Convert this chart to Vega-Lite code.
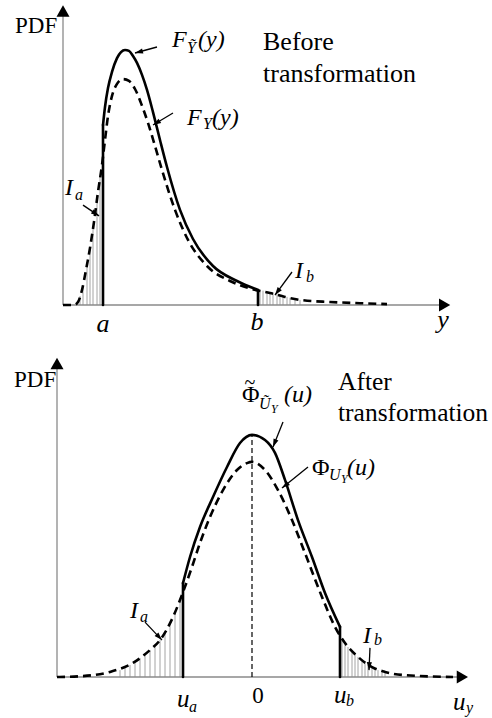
{
"$schema": "https://vega.github.io/schema/vega-lite/v6.json",
"background": "white",
"padding": 0,
"spacing": 0,
"config": {"view": {"stroke": null}},
"resolve": {"scale": {"x": "independent", "y": "independent", "shape": "independent"}},
"vconcat": [
{
"width": 492, "height": 345,
"data": {"values": [
{"k":"axis","x":0,"y":0,"x2":0,"y2":0.975},
{"k":"axis","x":0,"y":0,"x2":9.5,"y2":0},
{"k":"headUp","x":0,"y":0.98},
{"k":"headRight","x":9.54,"y":0},
{"k":"vsolid","x":1.0,"y":0,"x2":1.0,"y2":0.6},
{"k":"vsolid","x":4.875,"y":0,"x2":4.875,"y2":0.05},
{"k":"dash","x":0,"y":0},{"k":"dash","x":0.275,"y":0},{"k":"dash","x":0.375,"y":0.01},{"k":"dash","x":0.475,"y":0.05},{"k":"dash","x":0.575,"y":0.117},{"k":"dash","x":0.675,"y":0.19},{"k":"dash","x":0.775,"y":0.277},{"k":"dash","x":0.875,"y":0.377},{"k":"dash","x":0.975,"y":0.467},{"k":"dash","x":1.05,"y":0.55},{"k":"dash","x":1.125,"y":0.63},{"k":"dash","x":1.225,"y":0.697},{"k":"dash","x":1.35,"y":0.737},{"k":"dash","x":1.5,"y":0.753},{"k":"dash","x":1.65,"y":0.747},{"k":"dash","x":1.8,"y":0.72},{"k":"dash","x":1.95,"y":0.673},{"k":"dash","x":2.125,"y":0.607},{"k":"dash","x":2.3,"y":0.53},{"k":"dash","x":2.475,"y":0.45},{"k":"dash","x":2.8,"y":0.317},{"k":"dash","x":3.125,"y":0.217},{"k":"dash","x":3.6,"y":0.13},{"k":"dash","x":4.175,"y":0.08},{"k":"dash","x":4.675,"y":0.055},{"k":"dash","x":5.175,"y":0.04},{"k":"dash","x":5.55,"y":0.027},{"k":"dash","x":5.925,"y":0.017},{"k":"dash","x":6.675,"y":0.01},{"k":"dash","x":7.425,"y":0.006},{"k":"dash","x":8.1,"y":0.003},
{"k":"solid","x":1.0,"y":0.6},{"k":"solid","x":1.05,"y":0.66},{"k":"solid","x":1.125,"y":0.723},{"k":"solid","x":1.225,"y":0.777},{"k":"solid","x":1.35,"y":0.823},{"k":"solid","x":1.45,"y":0.843},{"k":"solid","x":1.55,"y":0.85},{"k":"solid","x":1.65,"y":0.847},{"k":"solid","x":1.75,"y":0.83},{"k":"solid","x":1.85,"y":0.807},{"k":"solid","x":1.975,"y":0.767},{"k":"solid","x":2.1,"y":0.717},{"k":"solid","x":2.25,"y":0.643},{"k":"solid","x":2.425,"y":0.55},{"k":"solid","x":2.6,"y":0.46},{"k":"solid","x":2.925,"y":0.317},{"k":"solid","x":3.25,"y":0.22},{"k":"solid","x":3.75,"y":0.13},{"k":"solid","x":4.35,"y":0.08},{"k":"solid","x":4.875,"y":0.05},
{"k":"hatch","x":0.425,"y":0.03},{"k":"hatch","x":0.5,"y":0.067},{"k":"hatch","x":0.6,"y":0.133},{"k":"hatch","x":0.675,"y":0.19},{"k":"hatch","x":0.75,"y":0.257},{"k":"hatch","x":0.85,"y":0.35},{"k":"hatch","x":0.925,"y":0.427},
{"k":"hatch","x":4.925,"y":0.05},{"k":"hatch","x":5.0,"y":0.048},{"k":"hatch","x":5.1,"y":0.045},{"k":"hatch","x":5.175,"y":0.042},{"k":"hatch","x":5.25,"y":0.04},{"k":"hatch","x":5.35,"y":0.037},{"k":"hatch","x":5.425,"y":0.034},{"k":"hatch","x":5.5,"y":0.031},{"k":"hatch","x":5.6,"y":0.027},{"k":"hatch","x":5.675,"y":0.024},{"k":"hatch","x":5.8,"y":0.02},{"k":"hatch","x":5.925,"y":0.017},
{"k":"arrow","x":2.35,"y":0.86,"x2":1.8,"y2":0.84},
{"k":"arrow","x":2.75,"y":0.64,"x2":2.25,"y2":0.6},
{"k":"arrow","x":0.5,"y":0.333,"x2":0.9,"y2":0.297},
{"k":"arrow","x":5.725,"y":0.11,"x2":5.3,"y2":0.033},
{"k":"lab","s":"PDF","x":-1.2,"y":0.907},
{"k":"cap","s":"Before","x":5.0,"y":0.85},
{"k":"cap","s":"transformation","x":5.0,"y":0.743},
{"k":"m","s":"F","x":2.725,"y":0.86},
{"k":"sub","s":"\u1ef8","x":3.1,"y":0.84},
{"k":"m","s":"(y)","x":3.375,"y":0.86},
{"k":"m","s":"F","x":3.1,"y":0.6},
{"k":"sub","s":"Y","x":3.5,"y":0.587},
{"k":"m","s":"(y)","x":3.725,"y":0.6},
{"k":"m","s":"I","x":0.05,"y":0.367},
{"k":"sub","s":"a","x":0.3,"y":0.35},
{"k":"m","s":"I","x":5.8,"y":0.09},
{"k":"sub","s":"b","x":6.075,"y":0.077},
{"k":"tick","s":"a","x":1.0,"y":-0.09},
{"k":"tick","s":"b","x":4.85,"y":-0.083},
{"k":"tick","s":"y","x":9.5,"y":-0.077}
]},
"encoding": {
"x": {"field":"x","type":"quantitative","scale":{"domain":[-1.575,10.725],"nice":false,"zero":false},"axis":null},
"y": {"field":"y","type":"quantitative","scale":{"domain":[-0.13333,1.01667],"nice":false,"zero":false},"axis":null}
},
"layer": [
{"transform":[{"filter":"datum.k==='hatch'"}],"mark":{"type":"rule","color":"#9a9a9a","strokeWidth":0.9},"encoding":{"y2":{"datum":0}}},
{"transform":[{"filter":"datum.k==='axis'"}],"mark":{"type":"rule","color":"#8a8a8a","strokeWidth":1.3},"encoding":{"x2":{"field":"x2"},"y2":{"field":"y2"}}},
{"transform":[{"filter":"datum.k==='headUp'||datum.k==='headRight'"}],"mark":{"type":"point","filled":true,"color":"black","size":169,"opacity":1},"encoding":{"shape":{"field":"k","type":"nominal","scale":{"domain":["headUp","headRight"],"range":["triangle-up","triangle-right"]},"legend":null}}},
{"transform":[{"filter":"datum.k==='dash'"}],"mark":{"type":"line","color":"black","strokeWidth":2.6,"strokeDash":[8,5],"interpolate":"monotone"},"encoding":{}},
{"transform":[{"filter":"datum.k==='solid'"}],"mark":{"type":"line","color":"black","strokeWidth":2.6,"interpolate":"monotone","strokeCap":"round"},"encoding":{}},
{"transform":[{"filter":"datum.k==='vsolid'"}],"mark":{"type":"rule","color":"black","strokeWidth":2.6,"strokeCap":"round"},"encoding":{"x2":{"field":"x2"},"y2":{"field":"y2"}}},
{"transform":[{"filter":"datum.k==='arrow'"}],"mark":{"type":"rule","color":"black","strokeWidth":1.3},"encoding":{"x2":{"field":"x2"},"y2":{"field":"y2"}}},
{"transform":[{"filter":"datum.k==='arrow'"},{"calculate":"atan2((datum.x2-datum.x)*40,(datum.y2-datum.y)*300)*180/PI","as":"ang"}],"mark":{"type":"point","filled":true,"color":"black","size":16,"shape":"M0,0L-1.3,4L1.3,4Z","opacity":1},"encoding":{"x":{"field":"x2","type":"quantitative","axis":null},"y":{"field":"y2","type":"quantitative","axis":null},"angle":{"field":"ang","type":"quantitative","scale":null}}},
{"transform":[{"filter":"datum.k==='lab'"}],"mark":{"type":"text","font":"Liberation Serif, DejaVu Serif, serif","fontSize":23,"align":"left","baseline":"alphabetic","color":"black"},"encoding":{"text":{"field":"s"}}},
{"transform":[{"filter":"datum.k==='cap'"}],"mark":{"type":"text","font":"Liberation Serif, DejaVu Serif, serif","fontSize":26,"align":"left","baseline":"alphabetic","color":"black"},"encoding":{"text":{"field":"s"}}},
{"transform":[{"filter":"datum.k==='m'"}],"mark":{"type":"text","font":"Liberation Serif, DejaVu Serif, serif","fontSize":24,"fontStyle":"italic","align":"left","baseline":"alphabetic","color":"black"},"encoding":{"text":{"field":"s"}}},
{"transform":[{"filter":"datum.k==='sub'"}],"mark":{"type":"text","font":"Liberation Serif, DejaVu Serif, serif","fontSize":16,"fontStyle":"italic","align":"left","baseline":"alphabetic","color":"black"},"encoding":{"text":{"field":"s"}}},
{"transform":[{"filter":"datum.k==='tick'"}],"mark":{"type":"text","font":"Liberation Serif, DejaVu Serif, serif","fontSize":26,"fontStyle":"italic","align":"center","baseline":"alphabetic","color":"black"},"encoding":{"text":{"field":"s"}}}
]
},
{
"width": 492, "height": 373,
"data": {"values": [
{"k":"axis","x":-4.875,"y":0,"x2":-4.875,"y2":1.04},
{"k":"axis","x":-4.875,"y":0,"x2":5.2,"y2":0},
{"k":"headUp","x":-4.875,"y":1.045},
{"k":"headRight","x":5.26,"y":0},
{"k":"vdash","x":0,"y":0,"x2":0,"y2":0.807},
{"k":"vsolid","x":-1.725,"y":0,"x2":-1.725,"y2":0.313},
{"k":"vsolid","x":2.2,"y":0,"x2":2.2,"y2":0.167},
{"k":"dash","x":-4.875,"y":0},{"k":"dash","x":-4.225,"y":0.003},{"k":"dash","x":-3.55,"y":0.017},{"k":"dash","x":-2.975,"y":0.047},{"k":"dash","x":-2.55,"y":0.09},{"k":"dash","x":-2.3,"y":0.123},{"k":"dash","x":-1.975,"y":0.2},{"k":"dash","x":-1.725,"y":0.283},{"k":"dash","x":-1.5,"y":0.367},{"k":"dash","x":-1.3,"y":0.447},{"k":"dash","x":-1.05,"y":0.533},{"k":"dash","x":-0.725,"y":0.623},{"k":"dash","x":-0.375,"y":0.69},{"k":"dash","x":-0.125,"y":0.713},{"k":"dash","x":0,"y":0.717},{"k":"dash","x":0.325,"y":0.69},{"k":"dash","x":0.65,"y":0.623},{"k":"dash","x":1.0,"y":0.523},{"k":"dash","x":1.325,"y":0.413},{"k":"dash","x":1.75,"y":0.267},{"k":"dash","x":2.075,"y":0.167},{"k":"dash","x":2.325,"y":0.113},{"k":"dash","x":2.65,"y":0.067},{"k":"dash","x":3.0,"y":0.033},{"k":"dash","x":3.325,"y":0.017},{"k":"dash","x":3.75,"y":0.007},{"k":"dash","x":5.025,"y":0},
{"k":"solid","x":-1.725,"y":0.313},{"k":"solid","x":-1.55,"y":0.4},{"k":"solid","x":-1.3,"y":0.5},{"k":"solid","x":-0.975,"y":0.6},{"k":"solid","x":-0.625,"y":0.7},{"k":"solid","x":-0.3,"y":0.78},{"k":"solid","x":0,"y":0.807},{"k":"solid","x":0.325,"y":0.79},{"k":"solid","x":0.575,"y":0.747},{"k":"solid","x":0.825,"y":0.657},{"k":"solid","x":1.15,"y":0.523},{"k":"solid","x":1.5,"y":0.4},{"k":"solid","x":1.825,"y":0.28},{"k":"solid","x":2.2,"y":0.167},
{"k":"hatch","x":-3.3,"y":0.023},{"k":"hatch","x":-3.175,"y":0.03},{"k":"hatch","x":-3.05,"y":0.04},{"k":"hatch","x":-2.925,"y":0.053},{"k":"hatch","x":-2.8,"y":0.063},{"k":"hatch","x":-2.675,"y":0.077},{"k":"hatch","x":-2.55,"y":0.09},{"k":"hatch","x":-2.425,"y":0.103},{"k":"hatch","x":-2.3,"y":0.123},{"k":"hatch","x":-2.175,"y":0.147},{"k":"hatch","x":-2.05,"y":0.177},{"k":"hatch","x":-1.925,"y":0.217},{"k":"hatch","x":-1.8,"y":0.257},
{"k":"hatch","x":2.25,"y":0.123},{"k":"hatch","x":2.325,"y":0.113},{"k":"hatch","x":2.4,"y":0.1},{"k":"hatch","x":2.5,"y":0.087},{"k":"hatch","x":2.575,"y":0.077},{"k":"hatch","x":2.65,"y":0.067},{"k":"hatch","x":2.75,"y":0.057},{"k":"hatch","x":2.825,"y":0.047},{"k":"hatch","x":2.9,"y":0.04},{"k":"hatch","x":3.0,"y":0.033},{"k":"hatch","x":3.075,"y":0.027},{"k":"hatch","x":3.15,"y":0.023},{"k":"hatch","x":3.25,"y":0.02},{"k":"hatch","x":3.325,"y":0.017},
{"k":"arrow","x":0.775,"y":0.85,"x2":0.525,"y2":0.767},
{"k":"arrow","x":1.4,"y":0.7,"x2":0.75,"y2":0.63},
{"k":"arrow","x":-2.675,"y":0.183,"x2":-2.25,"y2":0.123},
{"k":"arrow","x":2.95,"y":0.097,"x2":2.925,"y2":0.023},
{"k":"lab","s":"PDF","x":-5.95,"y":0.967},
{"k":"cap","s":"After","x":2.15,"y":0.957},
{"k":"cap","s":"transformation","x":2.15,"y":0.853},
{"k":"up","s":"\u03a6","x":-0.25,"y":0.917},
{"k":"tilde","s":"~","x":-0.05,"y":0.96},
{"k":"sub","s":"\u0168","x":0.175,"y":0.893},
{"k":"subsub","s":"Y","x":0.475,"y":0.88},
{"k":"m","s":"(u)","x":0.8,"y":0.917},
{"k":"up","s":"\u03a6","x":1.5,"y":0.673},
{"k":"sub","s":"U","x":1.925,"y":0.657},
{"k":"subsub","s":"Y","x":2.225,"y":0.647},
{"k":"m","s":"(u)","x":2.375,"y":0.673},
{"k":"m","s":"I","x":-3.05,"y":0.197},
{"k":"sub","s":"a","x":-2.8,"y":0.183},
{"k":"m","s":"I","x":2.775,"y":0.113},
{"k":"sub","s":"b","x":3.05,"y":0.107},
{"k":"mL","s":"u","x":-1.875,"y":-0.1},
{"k":"sub","s":"a","x":-1.575,"y":-0.117},
{"k":"tickup","s":"0","x":0.15,"y":-0.087},
{"k":"mL","s":"u","x":2.05,"y":-0.087},
{"k":"sub","s":"b","x":2.35,"y":-0.097},
{"k":"mL","s":"u","x":5.025,"y":-0.11},
{"k":"sub","s":"y","x":5.35,"y":-0.12}
]},
"encoding": {
"x": {"field":"x","type":"quantitative","scale":{"domain":[-6.3,6.0],"nice":false,"zero":false},"axis":null},
"y": {"field":"y","type":"quantitative","scale":{"domain":[-0.13667,1.10667],"nice":false,"zero":false},"axis":null}
},
"layer": [
{"transform":[{"filter":"datum.k==='hatch'"}],"mark":{"type":"rule","color":"#9a9a9a","strokeWidth":0.9},"encoding":{"y2":{"datum":0}}},
{"transform":[{"filter":"datum.k==='axis'"}],"mark":{"type":"rule","color":"#8a8a8a","strokeWidth":1.3},"encoding":{"x2":{"field":"x2"},"y2":{"field":"y2"}}},
{"transform":[{"filter":"datum.k==='headUp'||datum.k==='headRight'"}],"mark":{"type":"point","filled":true,"color":"black","size":169,"opacity":1},"encoding":{"shape":{"field":"k","type":"nominal","scale":{"domain":["headUp","headRight"],"range":["triangle-up","triangle-right"]},"legend":null}}},
{"transform":[{"filter":"datum.k==='vdash'"}],"mark":{"type":"rule","color":"black","strokeWidth":1.2,"strokeDash":[5,3]},"encoding":{"x2":{"field":"x2"},"y2":{"field":"y2"}}},
{"transform":[{"filter":"datum.k==='dash'"}],"mark":{"type":"line","color":"black","strokeWidth":2.6,"strokeDash":[8,5],"interpolate":"monotone"},"encoding":{}},
{"transform":[{"filter":"datum.k==='solid'"}],"mark":{"type":"line","color":"black","strokeWidth":2.6,"interpolate":"monotone","strokeCap":"round"},"encoding":{}},
{"transform":[{"filter":"datum.k==='vsolid'"}],"mark":{"type":"rule","color":"black","strokeWidth":2.6,"strokeCap":"round"},"encoding":{"x2":{"field":"x2"},"y2":{"field":"y2"}}},
{"transform":[{"filter":"datum.k==='arrow'"}],"mark":{"type":"rule","color":"black","strokeWidth":1.3},"encoding":{"x2":{"field":"x2"},"y2":{"field":"y2"}}},
{"transform":[{"filter":"datum.k==='arrow'"},{"calculate":"atan2((datum.x2-datum.x)*40,(datum.y2-datum.y)*300)*180/PI","as":"ang"}],"mark":{"type":"point","filled":true,"color":"black","size":16,"shape":"M0,0L-1.3,4L1.3,4Z","opacity":1},"encoding":{"x":{"field":"x2","type":"quantitative","axis":null},"y":{"field":"y2","type":"quantitative","axis":null},"angle":{"field":"ang","type":"quantitative","scale":null}}},
{"transform":[{"filter":"datum.k==='lab'"}],"mark":{"type":"text","font":"Liberation Serif, DejaVu Serif, serif","fontSize":23,"align":"left","baseline":"alphabetic","color":"black"},"encoding":{"text":{"field":"s"}}},
{"transform":[{"filter":"datum.k==='cap'"}],"mark":{"type":"text","font":"Liberation Serif, DejaVu Serif, serif","fontSize":25.5,"align":"left","baseline":"alphabetic","color":"black"},"encoding":{"text":{"field":"s"}}},
{"transform":[{"filter":"datum.k==='up'"}],"mark":{"type":"text","font":"Liberation Serif, DejaVu Serif, serif","fontSize":24,"align":"left","baseline":"alphabetic","color":"black"},"encoding":{"text":{"field":"s"}}},
{"transform":[{"filter":"datum.k==='tilde'"}],"mark":{"type":"text","font":"Liberation Serif, DejaVu Serif, serif","fontSize":20,"align":"center","baseline":"alphabetic","color":"black"},"encoding":{"text":{"field":"s"}}},
{"transform":[{"filter":"datum.k==='m'"}],"mark":{"type":"text","font":"Liberation Serif, DejaVu Serif, serif","fontSize":24,"fontStyle":"italic","align":"left","baseline":"alphabetic","color":"black"},"encoding":{"text":{"field":"s"}}},
{"transform":[{"filter":"datum.k==='mL'"}],"mark":{"type":"text","font":"Liberation Serif, DejaVu Serif, serif","fontSize":25,"fontStyle":"italic","align":"left","baseline":"alphabetic","color":"black"},"encoding":{"text":{"field":"s"}}},
{"transform":[{"filter":"datum.k==='sub'"}],"mark":{"type":"text","font":"Liberation Serif, DejaVu Serif, serif","fontSize":16,"fontStyle":"italic","align":"left","baseline":"alphabetic","color":"black"},"encoding":{"text":{"field":"s"}}},
{"transform":[{"filter":"datum.k==='subsub'"}],"mark":{"type":"text","font":"Liberation Serif, DejaVu Serif, serif","fontSize":12,"fontStyle":"italic","align":"left","baseline":"alphabetic","color":"black"},"encoding":{"text":{"field":"s"}}},
{"transform":[{"filter":"datum.k==='tickup'"}],"mark":{"type":"text","font":"Liberation Serif, DejaVu Serif, serif","fontSize":23,"align":"center","baseline":"alphabetic","color":"black"},"encoding":{"text":{"field":"s"}}}
]
}
]
}
